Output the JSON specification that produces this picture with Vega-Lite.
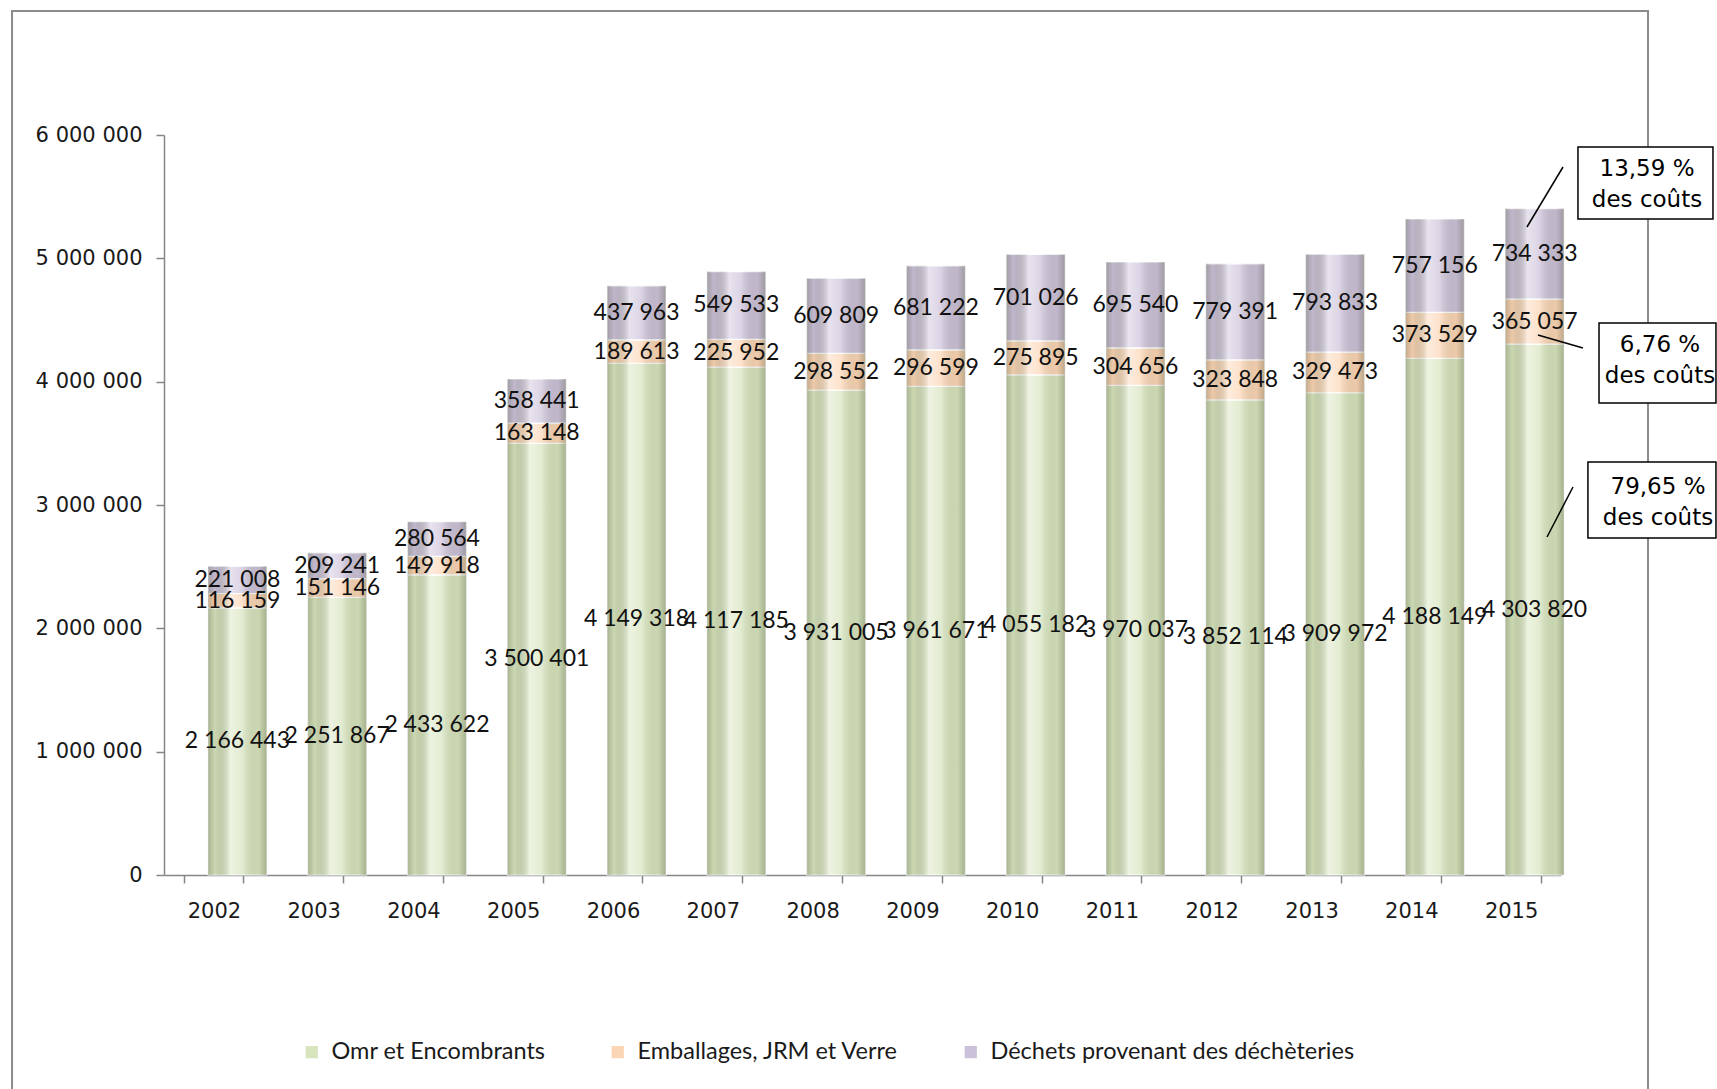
{
  "$schema": "https://vega.github.io/schema/vega-lite/v6.json",
  "width": 1397,
  "height": 740,
  "autosize": {"type": "none"},
  "padding": {"left": 164, "top": 135, "right": 156, "bottom": 214},
  "background": "white",
  "config": {
    "view": {"stroke": null},
    "locale": {"number": {"decimal": ",", "thousands": " ", "grouping": [3], "currency": ["", " €"]}},
    "axisY": {
      "grid": false, "labelFont": "DejaVu Sans", "labelFontSize": 21, "labelColor": "#1a1a1a",
      "labelPadding": 14, "domainColor": "#868686", "domainWidth": 1.5, "tickColor": "#868686",
      "tickSize": 8, "tickWidth": 1.5, "title": null
    }
  },
  "datasets": {
    "costs": [
      {"year": "2002", "serie": "Omr et Encombrants", "k": 1, "value": 2166443},
      {"year": "2002", "serie": "Emballages, JRM et Verre", "k": 2, "value": 116159},
      {"year": "2002", "serie": "Déchets provenant des déchèteries", "k": 3, "value": 221008},
      {"year": "2003", "serie": "Omr et Encombrants", "k": 1, "value": 2251867},
      {"year": "2003", "serie": "Emballages, JRM et Verre", "k": 2, "value": 151146},
      {"year": "2003", "serie": "Déchets provenant des déchèteries", "k": 3, "value": 209241},
      {"year": "2004", "serie": "Omr et Encombrants", "k": 1, "value": 2433622},
      {"year": "2004", "serie": "Emballages, JRM et Verre", "k": 2, "value": 149918},
      {"year": "2004", "serie": "Déchets provenant des déchèteries", "k": 3, "value": 280564},
      {"year": "2005", "serie": "Omr et Encombrants", "k": 1, "value": 3500401},
      {"year": "2005", "serie": "Emballages, JRM et Verre", "k": 2, "value": 163148},
      {"year": "2005", "serie": "Déchets provenant des déchèteries", "k": 3, "value": 358441},
      {"year": "2006", "serie": "Omr et Encombrants", "k": 1, "value": 4149318},
      {"year": "2006", "serie": "Emballages, JRM et Verre", "k": 2, "value": 189613},
      {"year": "2006", "serie": "Déchets provenant des déchèteries", "k": 3, "value": 437963},
      {"year": "2007", "serie": "Omr et Encombrants", "k": 1, "value": 4117185},
      {"year": "2007", "serie": "Emballages, JRM et Verre", "k": 2, "value": 225952},
      {"year": "2007", "serie": "Déchets provenant des déchèteries", "k": 3, "value": 549533},
      {"year": "2008", "serie": "Omr et Encombrants", "k": 1, "value": 3931005},
      {"year": "2008", "serie": "Emballages, JRM et Verre", "k": 2, "value": 298552},
      {"year": "2008", "serie": "Déchets provenant des déchèteries", "k": 3, "value": 609809},
      {"year": "2009", "serie": "Omr et Encombrants", "k": 1, "value": 3961671},
      {"year": "2009", "serie": "Emballages, JRM et Verre", "k": 2, "value": 296599},
      {"year": "2009", "serie": "Déchets provenant des déchèteries", "k": 3, "value": 681222},
      {"year": "2010", "serie": "Omr et Encombrants", "k": 1, "value": 4055182},
      {"year": "2010", "serie": "Emballages, JRM et Verre", "k": 2, "value": 275895},
      {"year": "2010", "serie": "Déchets provenant des déchèteries", "k": 3, "value": 701026},
      {"year": "2011", "serie": "Omr et Encombrants", "k": 1, "value": 3970037},
      {"year": "2011", "serie": "Emballages, JRM et Verre", "k": 2, "value": 304656},
      {"year": "2011", "serie": "Déchets provenant des déchèteries", "k": 3, "value": 695540},
      {"year": "2012", "serie": "Omr et Encombrants", "k": 1, "value": 3852114},
      {"year": "2012", "serie": "Emballages, JRM et Verre", "k": 2, "value": 323848},
      {"year": "2012", "serie": "Déchets provenant des déchèteries", "k": 3, "value": 779391},
      {"year": "2013", "serie": "Omr et Encombrants", "k": 1, "value": 3909972},
      {"year": "2013", "serie": "Emballages, JRM et Verre", "k": 2, "value": 329473},
      {"year": "2013", "serie": "Déchets provenant des déchèteries", "k": 3, "value": 793833},
      {"year": "2014", "serie": "Omr et Encombrants", "k": 1, "value": 4188149},
      {"year": "2014", "serie": "Emballages, JRM et Verre", "k": 2, "value": 373529},
      {"year": "2014", "serie": "Déchets provenant des déchèteries", "k": 3, "value": 757156},
      {"year": "2015", "serie": "Omr et Encombrants", "k": 1, "value": 4303820},
      {"year": "2015", "serie": "Emballages, JRM et Verre", "k": 2, "value": 365057},
      {"year": "2015", "serie": "Déchets provenant des déchèteries", "k": 3, "value": 734333}
    ],
    "frame": [
      {"ax": -1.523, "ax2": 14.872, "ay": 7005400, "ay2": -1900000}
    ],
    "boxes": [
      {"ax": 14.170, "ax2": 15.523, "ay": 5902700, "ay2": 5319000},
      {"ax": 14.381, "ax2": 15.553, "ay": 4475700, "ay2": 3827000},
      {"ax": 14.270, "ax2": 15.553, "ay": 3348600, "ay2": 2732400}
    ],
    "leaders": [
      {"ax": 13.659, "ax2": 14.020, "ay": 5254000, "ay2": 5740500},
      {"ax": 13.769, "ax2": 14.220, "ay": 4378400, "ay2": 4272950},
      {"ax": 13.860, "ax2": 14.120, "ay": 2740500, "ay2": 3145900}
    ],
    "notes": [
      {"ax": 14.862, "ay": 5724300, "note": "13,59 %\ndes coûts"},
      {"ax": 14.992, "ay": 4297300, "note": "6,76 %\ndes coûts"},
      {"ax": 14.972, "ay": 3145900, "note": "79,65 %\ndes coûts"}
    ]
  },
  "resolve": {"scale": {"x": "independent"}, "axis": {"x": "independent"}},
  "layer": [
    {
      "data": {"name": "frame"},
      "mark": {"type": "rect", "filled": false, "color": "#8c8c8c", "strokeWidth": 2},
      "encoding": {
        "x": {"field": "ax", "type": "quantitative", "scale": {"domain": [0, 14], "nice": false, "zero": false}, "axis": null},
        "x2": {"field": "ax2"},
        "y": {"field": "ay", "type": "quantitative", "scale": {"domain": [0, 6000000], "nice": false}, "title": null,
              "axis": {"values": [0, 1000000, 2000000, 3000000, 4000000, 5000000, 6000000], "format": ",d"}},
        "y2": {"field": "ay2"}
      }
    },
    {
      "data": {"name": "costs"},
      "layer": [
        {
          "mark": {"type": "bar", "xOffset": 23.5, "stroke": "white", "strokeWidth": 1.2},
          "encoding": {
            "x": {
              "field": "year", "type": "nominal", "title": null,
              "scale": {"paddingInner": 0.41, "paddingOuter": 0.205},
              "axis": {
                "labelAngle": 0, "tickBand": "extent", "labelFont": "DejaVu Sans", "labelFontSize": 21,
                "labelColor": "#1a1a1a", "labelPadding": 17, "domainColor": "#868686", "domainWidth": 1.5,
                "tickColor": "#868686", "tickSize": 8, "tickWidth": 1.5
              }
            },
            "y": {
              "field": "value", "type": "quantitative", "stack": "zero", "title": null,
              "scale": {"domain": [0, 6000000], "nice": false},
              "axis": {"values": [0, 1000000, 2000000, 3000000, 4000000, 5000000, 6000000], "format": ",d"}
            },
            "color": {
              "field": "serie", "type": "nominal",
              "sort": ["Omr et Encombrants", "Emballages, JRM et Verre", "Déchets provenant des déchèteries"],
              "scale": {
                "domain": ["Omr et Encombrants", "Emballages, JRM et Verre", "Déchets provenant des déchèteries"],
                "range": ["#d7e4bd", "#fcd5b5", "#ccc1da"]
              },
              "legend": {
                "title": null, "orient": "none", "direction": "horizontal", "legendX": 136, "legendY": 905,
                "symbolType": "square", "symbolSize": 150, "symbolStrokeWidth": 0, "labelFont": "Lato",
                "labelFontSize": 23.5, "labelColor": "#1a1a1a", "columnPadding": 60, "labelOffset": 8,
                "labelLimit": 0
              }
            },
            "order": {"field": "k", "type": "quantitative"}
          }
        },
        {
          "mark": {
            "type": "bar", "xOffset": 23.5,
            "fill": {
              "gradient": "linear", "x1": 0, "x2": 1, "y1": 0, "y2": 0,
              "stops": [
                {"offset": 0, "color": "rgba(60,70,40,0.30)"},
                {"offset": 0.12, "color": "rgba(60,70,40,0.08)"},
                {"offset": 0.38, "color": "rgba(255,255,255,0.55)"},
                {"offset": 0.58, "color": "rgba(255,255,255,0.30)"},
                {"offset": 0.86, "color": "rgba(60,70,40,0.08)"},
                {"offset": 1, "color": "rgba(60,70,40,0.32)"}
              ]
            }
          },
          "encoding": {
            "x": {"field": "year", "type": "nominal"},
            "y": {"aggregate": "sum", "field": "value", "type": "quantitative", "title": null,
                  "axis": {"values": [0, 1000000, 2000000, 3000000, 4000000, 5000000, 6000000], "format": ",d"}}
          }
        },
        {
          "transform": [
            {"stack": "value", "groupby": ["year"], "sort": [{"field": "k", "order": "ascending"}], "as": ["v0", "v1"]},
            {"calculate": "(datum.v0 + datum.v1) / 2", "as": "mid"}
          ],
          "mark": {"type": "text", "xOffset": 23.5, "font": "Lato", "fontSize": 23, "color": "#111111", "baseline": "middle"},
          "encoding": {
            "x": {"field": "year", "type": "nominal"},
            "y": {"field": "mid", "type": "quantitative", "title": null,
                  "axis": {"values": [0, 1000000, 2000000, 3000000, 4000000, 5000000, 6000000], "format": ",d"}},
            "text": {"field": "value", "type": "quantitative", "format": ",d"}
          }
        }
      ]
    },
    {
      "layer": [
        {
          "data": {"name": "leaders"},
          "mark": {"type": "rule", "color": "black", "strokeWidth": 1.5},
          "encoding": {
            "x": {"field": "ax", "type": "quantitative", "scale": {"domain": [0, 14], "nice": false, "zero": false}, "axis": null},
            "x2": {"field": "ax2"},
            "y": {"field": "ay", "type": "quantitative", "scale": {"domain": [0, 6000000], "nice": false}, "title": null,
                  "axis": {"values": [0, 1000000, 2000000, 3000000, 4000000, 5000000, 6000000], "format": ",d"}},
            "y2": {"field": "ay2"}
          }
        },
        {
          "data": {"name": "boxes"},
          "mark": {"type": "rect", "fill": "white", "stroke": "black", "strokeWidth": 1.5},
          "encoding": {
            "x": {"field": "ax", "type": "quantitative", "axis": null},
            "x2": {"field": "ax2"},
            "y": {"field": "ay", "type": "quantitative", "title": null,
                  "axis": {"values": [0, 1000000, 2000000, 3000000, 4000000, 5000000, 6000000], "format": ",d"}},
            "y2": {"field": "ay2"}
          }
        },
        {
          "data": {"name": "notes"},
          "mark": {"type": "text", "font": "DejaVu Sans", "fontSize": 23, "lineHeight": 31, "lineBreak": "\n", "align": "center", "baseline": "middle", "color": "black"},
          "encoding": {
            "x": {"field": "ax", "type": "quantitative", "axis": null},
            "y": {"field": "ay", "type": "quantitative", "title": null,
                  "axis": {"values": [0, 1000000, 2000000, 3000000, 4000000, 5000000, 6000000], "format": ",d"}},
            "text": {"field": "note", "type": "nominal"}
          }
        }
      ]
    }
  ]
}
